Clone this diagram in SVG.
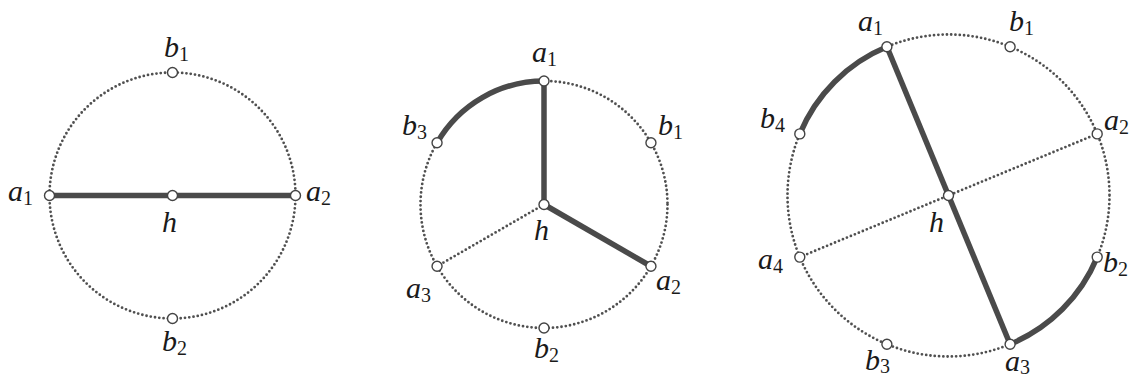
<svg xmlns="http://www.w3.org/2000/svg" width="1132" height="380" viewBox="0 0 1132 380">
<style>
.bg{fill:#ffffff}
.dot{fill:none;stroke:#505050;stroke-width:2.8;stroke-linecap:round;stroke-dasharray:0 4.3}
.thick{fill:none;stroke:#4a4a4a;stroke-width:5.5;stroke-linecap:butt}
.node{fill:#fff;stroke:#444;stroke-width:1.4}
.lbl{font-size:30px;font-style:italic;fill:#1a1a1a}
.sub{font-style:normal;font-size:20px}
</style>
<rect class="bg" x="0" y="0" width="1132" height="380"/>
<g id="connectors">
  <circle class="dot" cx="172.5" cy="195.5" r="123"/>
  <line class="thick" x1="49.5" y1="195.5" x2="295.5" y2="195.5"/>
  <circle class="dot" cx="544" cy="204.5" r="123.5"/>
  <line class="dot" x1="544" y1="204.5" x2="437.05" y2="266.25"/>
  <path class="thick" d="M437.05,142.75 A123.5,123.5 0 0 1 544,81"/>
  <line class="thick" x1="544" y1="204.5" x2="544" y2="81"/>
  <line class="thick" x1="544" y1="204.5" x2="650.95" y2="266.25"/>
  <circle class="dot" cx="948.5" cy="195.5" r="161"/>
  <line class="dot" x1="1097.2" y1="133.9" x2="799.8" y2="257.1"/>
  <path class="thick" d="M799.8,133.9 A161,161 0 0 1 886.9,46.8"/>
  <path class="thick" d="M1097.2,257.1 A161,161 0 0 1 1010.1,344.2"/>
  <line class="thick" x1="886.9" y1="46.8" x2="1010.1" y2="344.2"/>
</g>
<g font-family="Liberation Serif, Times New Roman, serif">
<g id="d1-a1"><circle class="node" cx="49.5" cy="195.5" r="5"/><text class="lbl" x="8" y="201">a<tspan class="sub" dy="4">1</tspan></text></g>
<g id="d1-a2"><circle class="node" cx="295.5" cy="195.5" r="5"/><text class="lbl" x="306" y="201">a<tspan class="sub" dy="4">2</tspan></text></g>
<g id="d1-b1"><circle class="node" cx="172.5" cy="72.5" r="5"/><text class="lbl" x="164" y="57">b<tspan class="sub" dy="4">1</tspan></text></g>
<g id="d1-b2"><circle class="node" cx="172.5" cy="318.5" r="5"/><text class="lbl" x="162" y="351">b<tspan class="sub" dy="4">2</tspan></text></g>
<g id="d1-h"><circle class="node" cx="172.5" cy="195.5" r="5"/><text class="lbl" x="162" y="232">h</text></g>
<g id="d2-a1"><circle class="node" cx="544" cy="81" r="5"/><text class="lbl" x="532" y="62">a<tspan class="sub" dy="4">1</tspan></text></g>
<g id="d2-b1"><circle class="node" cx="650.95" cy="142.75" r="5"/><text class="lbl" x="658" y="135">b<tspan class="sub" dy="4">1</tspan></text></g>
<g id="d2-a2"><circle class="node" cx="650.95" cy="266.25" r="5"/><text class="lbl" x="656" y="290">a<tspan class="sub" dy="4">2</tspan></text></g>
<g id="d2-b2"><circle class="node" cx="544" cy="328" r="5"/><text class="lbl" x="534" y="358">b<tspan class="sub" dy="4">2</tspan></text></g>
<g id="d2-a3"><circle class="node" cx="437.05" cy="266.25" r="5"/><text class="lbl" x="406" y="298">a<tspan class="sub" dy="4">3</tspan></text></g>
<g id="d2-b3"><circle class="node" cx="437.05" cy="142.75" r="5"/><text class="lbl" x="402" y="135">b<tspan class="sub" dy="4">3</tspan></text></g>
<g id="d2-h"><circle class="node" cx="544" cy="204.5" r="5"/><text class="lbl" x="534" y="240">h</text></g>
<g id="d3-a1"><circle class="node" cx="886.9" cy="46.8" r="5"/><text class="lbl" x="858" y="31">a<tspan class="sub" dy="4">1</tspan></text></g>
<g id="d3-b1"><circle class="node" cx="1010.1" cy="46.8" r="5"/><text class="lbl" x="1009" y="31">b<tspan class="sub" dy="4">1</tspan></text></g>
<g id="d3-a2"><circle class="node" cx="1097.2" cy="133.9" r="5"/><text class="lbl" x="1104" y="130">a<tspan class="sub" dy="4">2</tspan></text></g>
<g id="d3-b2"><circle class="node" cx="1097.2" cy="257.1" r="5"/><text class="lbl" x="1103" y="272">b<tspan class="sub" dy="4">2</tspan></text></g>
<g id="d3-a3"><circle class="node" cx="1010.1" cy="344.2" r="5"/><text class="lbl" x="1005" y="371">a<tspan class="sub" dy="3">3</tspan></text></g>
<g id="d3-b3"><circle class="node" cx="886.9" cy="344.2" r="5"/><text class="lbl" x="865" y="370">b<tspan class="sub" dy="3">3</tspan></text></g>
<g id="d3-a4"><circle class="node" cx="799.8" cy="257.1" r="5"/><text class="lbl" x="758" y="269">a<tspan class="sub" dy="4">4</tspan></text></g>
<g id="d3-b4"><circle class="node" cx="799.8" cy="133.9" r="5"/><text class="lbl" x="760" y="128">b<tspan class="sub" dy="4">4</tspan></text></g>
<g id="d3-h"><circle class="node" cx="948.5" cy="195.5" r="5"/><text class="lbl" x="929" y="232">h</text></g>
</g>
</svg>
